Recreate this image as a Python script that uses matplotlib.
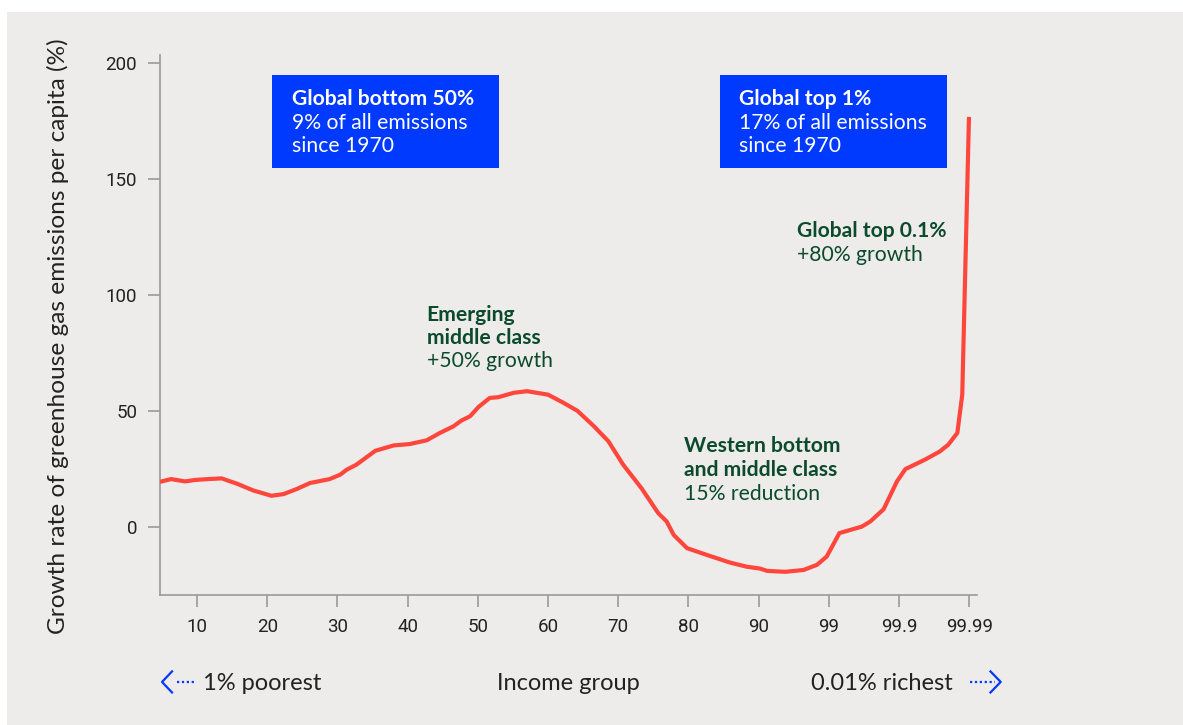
import matplotlib
matplotlib.use('Agg')
import matplotlib.pyplot as plt
from matplotlib.patches import Rectangle

# income group position along the axis (90->99, 99->99.9, 99.9->99.99 each span 10 units)
income_pos = [5.0, 6.3, 8.3, 9.7, 11.6, 13.5, 15.7, 18.0, 20.6, 22.3, 24.2, 26.1, 28.9, 30.4,
              31.3, 32.7, 35.4, 38.0, 40.3, 42.7, 44.6, 46.5, 47.7, 48.9, 50.1, 51.7, 52.9,
              55.1, 57.0, 60.0, 62.2, 64.2, 66.5, 68.6, 70.7, 73.3, 75.7, 76.9, 77.9, 79.8,
              82.6, 85.9, 88.3, 90.2, 91.2, 93.8, 96.4, 98.3, 99.7, 101.5, 104.7, 105.9,
              107.8, 109.7, 110.9, 113.7, 115.8, 117.0, 118.3, 119.0, 119.95]
growth = [19.6, 20.6, 19.6, 20.2, 20.6, 20.9, 18.6, 15.7, 13.4, 14.1, 16.3, 18.9, 20.6, 22.5,
          24.6, 26.8, 32.8, 35.1, 35.7, 37.3, 40.5, 43.3, 45.9, 47.7, 51.7, 55.6, 55.9,
          57.8, 58.5, 57.0, 53.5, 50.0, 43.5, 36.9, 26.8, 16.7, 5.9, 2.3, -3.5, -9.2,
          -12.1, -15.4, -17.2, -18.0, -19.0, -19.4, -18.6, -16.4, -12.8, -2.7, 0.1, 2.3,
          7.6, 19.6, 24.9, 29.0, 32.5, 35.4, 40.5, 57.0, 175.9]
tick_pos = [10, 20, 30, 40, 50, 60, 70, 80, 90, 100, 110, 120]
tick_labels = ['10', '20', '30', '40', '50', '60', '70', '80', '90', '99', '99.9', '99.99']
y_ticks = [0, 50, 100, 150, 200]

RED = '#ff463c'
BLUE = '#0039ff'
GREEN = '#0b4a2c'
BG = '#edecea'
TXT = '#222222'

plt.rcParams['font.family'] = ['Lato', 'DejaVu Sans']

fig = plt.figure(figsize=(11.83, 7.25), dpi=100, facecolor='white')
fig.patches.append(Rectangle((7/1183, 0), 1, 1 - 12/725, transform=fig.transFigure,
                             facecolor=BG, edgecolor='none', zorder=-10))
ax = fig.add_axes([160/1183, 1 - 595/725, 817/1183, 540/725])
ax.set_facecolor('none')

ax.plot(income_pos, growth, color=RED, lw=3.0, solid_joinstyle='round', zorder=3)

ax.set_xlim(4.73, 121.1)
ax.set_ylim(-29.4, 203.5)
ax.set_xticks(tick_pos)
ax.set_xticklabels(tick_labels)
ax.set_yticks(y_ticks)
for s in ['top', 'right']:
    ax.spines[s].set_visible(False)
for s in ['left', 'bottom']:
    ax.spines[s].set_color('#9a9a9a')
    ax.spines[s].set_linewidth(1.2)
ax.tick_params(axis='both', colors='#9a9a9a', length=8.5, width=1.2, pad=8,
               labelcolor=TXT, labelsize=13.5)
for lab in ax.get_xticklabels() + ax.get_yticklabels():
    lab.set_family(['Liberation Sans Narrow', 'Roboto', 'DejaVu Sans'])

# y label
fig.text(58/1183, 1 - 336/725, 'Growth rate of greenhouse gas emissions per capita (%)',
         rotation=90, ha='center', va='center', fontsize=17.6, color=TXT)

# blue boxes
for x0, x1 in [(20.68, 53.0), (84.5, 116.8)]:
    ax.add_patch(Rectangle((x0, 154.8), x1 - x0, 40.1, facecolor=BLUE, edgecolor='none', zorder=2))

def block(x, ys, lines, color):
    for y, (txt, bold) in zip(ys, lines):
        ax.text(x, y, txt, ha='left', va='baseline', fontsize=15.2, color=color,
                fontweight='bold' if bold else 'normal', zorder=4)

block(23.53, [181.9, 171.6, 161.6],
      [('Global bottom 50%', True), ('9% of all emissions', False), ('since 1970', False)], 'white')
block(87.2, [181.9, 171.6, 161.6],
      [('Global top 1%', True), ('17% of all emissions', False), ('since 1970', False)], 'white')
block(42.7, [88.7, 78.7, 68.8],
      [('Emerging', True), ('middle class', True), ('+50% growth', False)], GREEN)
block(79.4, [32.1, 22.0, 11.7],
      [('Western bottom', True), ('and middle class', True), ('15% reduction', False)], GREEN)
block(95.4, [124.8, 114.7],
      [('Global top 0.1%', True), ('+80% growth', False)], GREEN)

# bottom labels and arrows
trans = ax.get_xaxis_transform()
yb = -0.176
ax.text(10.85, yb, '1% poorest', transform=trans, ha='left', va='baseline', fontsize=17, color=TXT)
ax.text(62.85, yb, 'Income group', transform=trans, ha='center', va='baseline', fontsize=17, color=TXT)
ax.text(117.7, yb, '0.01% richest', transform=trans, ha='right', va='baseline', fontsize=17, color=TXT)

ya = -0.161
ax.plot([0.021, 0.0425], [ya, ya], transform=ax.transAxes, color=BLUE, lw=1.6,
        ls=(0, (1, 1.2)), clip_on=False)
ax.plot([0.0147, 0.0025, 0.0147], [ya + 0.0195, ya, ya - 0.0195], transform=ax.transAxes,
        color=BLUE, lw=1.6, clip_on=False)
ax.plot([0.991, 1.022], [ya, ya], transform=ax.transAxes, color=BLUE, lw=1.6,
        ls=(0, (1, 1.2)), clip_on=False)
ax.plot([1.0165, 1.029, 1.0165], [ya + 0.0195, ya, ya - 0.0195], transform=ax.transAxes,
        color=BLUE, lw=1.6, clip_on=False)

fig.savefig('out.png', dpi=100, facecolor=fig.get_facecolor())
